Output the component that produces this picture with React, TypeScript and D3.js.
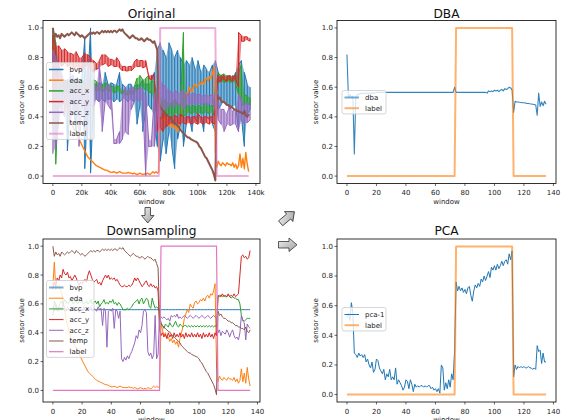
import React from "react";
import * as d3 from "d3";

const BLUE = "#1f77b4";
const ORANGE = "#ff7f0e";
const GREEN = "#2ca02c";
const RED = "#d62728";
const PURPLE = "#9467bd";
const BROWN = "#8c564b";
const PINK = "#e377c2";
const FONT = "DejaVu Sans, Liberation Sans, sans-serif";

// window index 0..135 for the downsampled / DBA / PCA series
const win = d3.range(136);
// original signal, bins of 2k samples (value in thousands)
const origBin = d3.range(0, 137, 2);

const xTickVals = [0, 20, 40, 60, 80, 100, 120, 140];
const origTickLabels = ["0", "20k", "40k", "60k", "80k", "100k", "120k", "140k"];
const yTickVals = [0, 0.2, 0.4, 0.6, 0.8, 1.0];

const label = [
  0, 0, 0, 0, 0, 0, 0, 0, 0, 0, 0, 0, 0, 0, 0, 0, 0, 0, 0, 0,
  0, 0, 0, 0, 0, 0, 0, 0, 0, 0, 0, 0, 0, 0, 0, 0, 0, 0, 0, 0,
  0, 0, 0, 0, 0, 0, 0, 0, 0, 0, 0, 0, 0, 0, 0, 0, 0, 0, 0, 0,
  0, 0, 0, 0, 0, 0, 0, 0, 0, 0, 0, 0, 0, 0, 1, 1, 1, 1, 1, 1,
  1, 1, 1, 1, 1, 1, 1, 1, 1, 1, 1, 1, 1, 1, 1, 1, 1, 1, 1, 1,
  1, 1, 1, 1, 1, 1, 1, 1, 1, 1, 1, 1, 1, 0, 0, 0, 0, 0, 0, 0,
  0, 0, 0, 0, 0, 0, 0, 0, 0, 0, 0, 0, 0, 0, 0, 0,
];

const dsBvp = [
  .56, .56, .56, .56, .56, .56, .56, .56, .56, .56, .56, .56, .56, .56, .56, .56, .56, .56, .56, .56,
  .56, .56, .56, .56, .56, .56, .56, .56, .56, .56, .56, .56, .56, .56, .56, .56, .56, .56, .56, .56,
  .56, .56, .56, .56, .56, .56, .56, .56, .56, .56, .56, .56, .56, .56, .56, .56, .56, .56, .56, .56,
  .56, .56, .56, .56, .56, .56, .56, .56, .56, .56, .56, .56, .56, .56, .56, .56, .56, .56, .56, .56,
  .56, .56, .56, .56, .56, .56, .56, .56, .56, .56, .56, .56, .56, .56, .56, .56, .56, .56, .56, .56,
  .56, .56, .56, .56, .56, .56, .56, .56, .56, .56, .56, .56, .56, .56, .56, .56, .56, .56, .56, .56,
  .56, .56, .56, .56, .56, .56, .56, .56, .56, .56, .56, .56, .56, .56, .56, .56,
];

const dsEda = [
  .72, .89, .70, .72, .73, .70, .68, .62, .56, .50,
  .45, .41, .38, .35, .33, .31, .30, .27, .25, .23,
  .21, .19, .17, .15, .13, .12, .11, .10, .09, .08,
  .07, .065, .06, .055, .05, .045, .04, .04, .035, .03,
  .025, .025, .03, .025, .02, .025, .03, .025, .02, .02,
  .02, .02, .025, .02, .02, .015, .02, .015, .01, .015,
  .02, .015, .01, .015, .01, .02, .015, .01, .02, .03,
  .02, .03, .02, .03, .46, .42, .38, .40, .36, .37,
  .34, .36, .33, .35, .32, .34, .30, .36, .40, .44,
  .50, .53, .56, .54, .60, .58, .57, .61, .62, .60,
  .61, .63, .62, .64, .62, .65, .66, .64, .67, .66,
  .69, .74, .17, .06, .10, .08, .07, .09, .08, .07,
  .09, .08, .08, .07, .09, .06, .08, .05, .07, .15,
  .06, .12, .05, .16, .08, .03,
];

const dsAccX = [
  .52, .62, .60, .55, .58, .60, .62, .60, .63, .62,
  .60, .61, .63, .62, .60, .61, .62, .60, .62, .61,
  .62, .60, .61, .62, .60, .61, .63, .60, .61, .62,
  .60, .62, .58, .60, .61, .63, .60, .61, .60, .62,
  .61, .63, .60, .61, .59, .61, .60, .58, .56, .56,
  .56, .57, .56, .57, .58, .60, .61, .62, .63, .60,
  .63, .64, .60, .62, .64, .63, .58, .57, .64, .60,
  .57, .58, .57, .55, .46, .45, .43, .46, .45, .44,
  .47, .45, .44, .46, .48, .45, .44, .46, .45, .44,
  .45, .45, .44, .45, .44, .45, .44, .45, .44, .45,
  .44, .45, .44, .45, .44, .45, .44, .45, .44, .45,
  .44, .45, .44, .66, .65, .66, .65, .66, .65, .65,
  .66, .65, .64, .65, .64, .64, .63, .63, .60, .52,
  .49, .48, .49, .50, .50, .50,
];

const dsAccY = [
  .70, .75, .72, .78, .76, .80, .78, .84, .81, .80,
  .82, .78, .79, .76, .78, .80, .78, .75, .73, .75,
  .74, .76, .77, .75, .80, .83, .80, .77, .75, .76,
  .77, .74, .75, .73, .76, .78, .80, .78, .80, .77,
  .78, .77, .78, .76, .77, .75, .73, .72, .72, .73,
  .72, .72, .73, .72, .73, .75, .78, .76, .78, .76,
  .74, .72, .73, .75, .76, .73, .72, .74, .72, .73,
  .71, .72, .69, .42, .38, .40, .37, .39, .36, .40,
  .37, .39, .36, .40, .37, .39, .37, .40, .37, .39,
  .36, .40, .37, .39, .37, .40, .37, .39, .37, .40,
  .37, .39, .36, .40, .37, .39, .37, .40, .37, .39,
  .36, .40, .38, .65, .66, .65, .67, .65, .66, .65,
  .67, .65, .66, .65, .67, .65, .66, .67, .80, .93,
  .94, .92, .93, .91, .92, .97,
];

const dsAccZ = [
  .58, .55, .60, .57, .55, .58, .56, .60, .57, .55,
  .58, .56, .55, .57, .58, .55, .57, .56, .54, .57,
  .55, .58, .56, .55, .57, .56, .58, .55, .57, .56,
  .55, .58, .56, .57, .45, .57, .55, .30, .55, .56,
  .55, .57, .43, .56, .55, .50, .55, .22, .20, .23,
  .21, .24, .22, .25, .27, .30, .33, .38, .36, .42,
  .40, .45, .55, .56, .54, .27, .24, .26, .22, .25,
  .52, .22, .25, .52, .51, .50, .51, .50, .49, .50,
  .48, .52, .51, .52, .51, .53, .50, .51, .50, .51,
  .52, .51, .50, .51, .52, .51, .50, .51, .52, .51,
  .50, .51, .52, .51, .50, .51, .52, .51, .50, .51,
  .52, .51, .50, .40, .42, .38, .41, .40, .39, .42,
  .40, .37, .40, .42, .38, .36, .37, .35, .40, .52,
  .48, .47, .35, .46, .44, .43,
];

const dsTemp = [
  1.0, .93, .96, .94, .95, .93, .96, .95, .94, .95,
  .96, .95, .96, .97, .96, .95, .97, .96, .95, .94,
  .95, .94, .93, .94, .95, .96, .97, .96, .97, .96,
  .97, .97, .96, .97, .98, .97, .98, .97, .98, .97,
  .98, .97, .98, .98, .97, .98, .99, .98, .99, .97,
  .96, .95, .94, .93, .94, .95, .94, .93, .93, .92,
  .92, .93, .92, .91, .92, .93, .92, .92, .91, .90,
  .91, .88, .85, .50, .47, .45, .44, .43, .42, .41,
  .405, .39, .38, .37, .36, .35, .34, .33, .31, .30,
  .29, .28, .27, .26, .26, .25, .245, .24, .235, .23,
  .22, .20, .19, .17, .15, .13, .12, .10, .08, .06,
  .04, .01, -.03, .55, .52, .53, .51, .50, .50, .49,
  .48, .48, .47, .47, .46, .45, .45, .44, .44, .43,
  .43, .42, .44, .41, .40, .42,
];

const dba = [
  .82, .53, .55, .53, .54, .15, .53, .55, .55, .56,
  .555, .56, .555, .56, .56, .56, .56, .56, .56, .56,
  .565, .565, .565, .565, .565, .565, .565, .565, .565, .565,
  .565, .565, .565, .565, .565, .565, .565, .565, .565, .565,
  .565, .565, .565, .565, .565, .565, .565, .565, .565, .565,
  .565, .565, .565, .565, .565, .565, .565, .565, .565, .565,
  .565, .565, .565, .565, .565, .565, .565, .565, .565, .565,
  .565, .565, .565, .60, .565, .565, .565, .565, .565, .565,
  .565, .565, .565, .565, .565, .565, .565, .565, .565, .565,
  .565, .565, .565, .565, .565, .56, .575, .57, .575, .57,
  .58, .575, .58, .57, .58, .585, .575, .59, .585, .59,
  .60, .595, .58, .43, .505, .50, .50, .498, .497, .495,
  .495, .493, .49, .49, .488, .487, .485, .483, .48, .41,
  .56, .47, .50, .475, .505, .485,
];

const pca = [
  .52, .55, .50, .62, .55, .28, .27, .25, .28, .26,
  .27, .25, .27, .22, .24, .20, .18, .22, .15, .17,
  .24, .23, .18, .16, .14, .17, .10, .14, .12, .17,
  .10, .12, .10, .18, .07, .10, .08, .06, .03, .05,
  .10, .09, .04, .10, .07, .02, .07, .05, .06, .05,
  .06, .06, .05, .06, .05, .06, .06, .04, .05, .03,
  .04, .02, .04, .01, .20, .18, .03, .08, .04, .10,
  .05, .14, .10, .30, .76, .70, .73, .70, .72, .69,
  .71, .68, .72, .73, .67, .63, .70, .74, .72, .75,
  .73, .78, .76, .80, .77, .80, .83, .79, .86, .84,
  .87, .84, .88, .85, .87, .90, .87, .90, .91, .88,
  .95, .91, .97, .12, .20, .17, .19, .18, .19, .18,
  .19, .18, .18, .19, .18, .18, .17, .18, .17, .33,
  .29, .30, .21, .28, .22, .22,
];

// original noisy signals: low / high of each 2k bin
const oBvpLo = [
  .30, .20, .45, .48, .50, .17, .48, .50, .30, .50, .52, .05, .50, .02, .50, .52, .50, .52, .50, .52,
  .52, .50, .52, .50, .52, .52, .50, .52, .50, .35, .48, .30, .45, .48, .45, .40, .20, .10, .25, .15,
  .30, .20, .05, .25, .35, .20, .35, .40, .30, .40, .35, .42, .30, .40, .38, .35, .30, .45, .48, .50,
  .48, .45, .47, .48, .30, .40, .20, .42, .45,
];
const oBvpHi = [
  .98, .90, .75, .65, .64, .65, .66, .68, .64, .65, .66, .93, .62, 1.0, .62, .62, .63, .62, .70, .62,
  .63, .62, .62, .70, .62, .60, .62, .62, .60, .62, .62, .65, .62, .62, .65, .70, .85, .90, .85, .80,
  .90, .85, .80, .85, .80, .75, .78, .75, .80, .72, .78, .70, .75, .72, .70, .75, .78, .70, .68, .65,
  .66, .68, .65, .70, .75, .78, .70, .62, .60,
];
const oAccXLo = [
  .50, .08, .55, .55, .56, .55, .58, .57, .58, .57, .58, .56, .58, .57, .56, .58, .58, .57, .58, .58,
  .57, .56, .57, .57, .55, .55, .55, .55, .56, .58, .60, .60, .58, .57, .56, .50, .40, .38, .40, .40,
  .42, .40, .42, .42, .40, .40, .42, .43, .42, .43, .42, .43, .42, .43, .42, .43, .40, .63, .64, .63,
  .64, .63, .64, .62, .55, .48, .48, .49, .48,
];
const oAccXHi = [
  1.0, .90, .65, .63, .64, .63, .64, .63, .66, .63, .64, .63, .64, .63, .65, .64, .63, .62, .63, .62,
  .61, .60, .61, .60, .58, .57, .58, .57, .60, .66, .68, .65, .66, .68, .65, .63, .58, .55, .50, .52,
  .48, .50, .52, .48, .50, .97, .48, .47, .48, .47, .48, .47, .48, .50, .47, .48, .60, .70, .68, .69,
  .68, .67, .68, .66, .70, .75, .55, .54, .53,
];
const oAccYLo = [
  .50, .60, .75, .74, .76, .74, .75, .72, .74, .72, .70, .74, .75, .72, .70, .72, .73, .75, .76, .74,
  .75, .74, .74, .73, .71, .71, .71, .71, .73, .74, .74, .73, .74, .66, .65, .65, .30, .33, .30, .33,
  .35, .36, .35, .36, .35, .36, .35, .36, .35, .36, .35, .36, .35, .36, .35, .36, .35, .64, .64, .65,
  .64, .65, .64, .65, .60, .91, .91, .92, .91,
];
const oAccYHi = [
  .95, .88, .88, .85, .86, .84, .83, .82, .84, .80, .80, .83, .82, .80, .78, .76, .78, .82, .82, .80,
  .79, .78, .80, .77, .74, .74, .74, .74, .77, .79, .78, .78, .78, .68, .68, .68, .50, .42, .45, .42,
  .40, .40, .41, .40, .42, .40, .40, .40, .40, .40, .42, .40, .40, .40, .40, .40, .50, .68, .67, .68,
  .67, .68, .67, .68, .97, .95, .94, .94, .93,
];
const oAccZLo = [
  .15, .20, .35, .45, .40, .50, .35, .45, .50, .20, .45, .50, .25, .50, .45, .52, .50, .30, .50, .48,
  .45, .22, .22, .22, .25, .30, .28, .45, .50, .52, .50, .52, .00, .20, .20, .20, .40, .40, .45, .45,
  .47, .48, .47, .48, .48, .45, .48, .48, .49, .48, .49, .48, .49, .48, .49, .48, .45, .38, .35, .30,
  .35, .34, .35, .35, .30, .38, .35, .36, .38,
];
const oAccZHi = [
  .85, .80, .75, .70, .65, .60, .70, .60, .62, .65, .60, .62, .75, .58, .62, .60, .75, .58, .60, .62,
  .60, .25, .25, .30, .55, .60, .58, .60, .60, .58, .60, .58, .55, .25, .24, .55, .60, .65, .62, .60,
  .58, .56, .58, .56, .57, .58, .55, .56, .55, .56, .55, .55, .54, .55, .54, .55, .55, .52, .45, .45,
  .42, .48, .44, .45, .55, .52, .48, .50, .48,
];

type Layer =
  | { kind: "line"; x: number[]; y: number[]; color: string; width: number; opacity?: number }
  | { kind: "band"; x: number[]; lo: number[]; hi: number[]; color: string; width: number };
type Box = { x: number; y: number; w: number; h: number };
type LegendItem = { name: string; color: string; width: number; opacity?: number };

function Panel(props: {
  id: string;
  box: Box;
  xDomain: [number, number];
  yDomain: [number, number];
  xLabels: string[];
  title: string;
  titleY: number;
  layers: Layer[];
  legend: LegendItem[];
  legendAt: { x: number; y: number; w: number };
}) {
  const { id, box, xDomain, yDomain, xLabels, title, titleY, layers, legend, legendAt } = props;
  const x = d3.scaleLinear().domain(xDomain).range([box.x, box.x + box.w]);
  const y = d3.scaleLinear().domain(yDomain).range([box.y + box.h, box.y]);
  const line = d3
    .line<[number, number]>()
    .x((d) => x(d[0]))
    .y((d) => y(d[1]));
  const area = d3
    .area<[number, number, number]>()
    .x((d) => x(d[0]))
    .y0((d) => y(d[1]))
    .y1((d) => y(d[2]));

  const paths = layers.map((l, i) => {
    if (l.kind === "line") {
      const pts = l.x.map((v, j) => [v, l.y[j]] as [number, number]);
      return (
        <path
          key={i}
          d={line(pts) || ""}
          fill="none"
          stroke={l.color}
          strokeWidth={l.width}
          strokeOpacity={l.opacity ?? 1}
          strokeLinejoin="round"
        />
      );
    }
    // noisy original signal: light envelope plus a zigzag through the bin extremes
    const zig: [number, number][] = [];
    l.x.forEach((v, j) => {
      zig.push([v, j % 2 ? l.hi[j] : l.lo[j]]);
      zig.push([v, j % 2 ? l.lo[j] : l.hi[j]]);
    });
    const env = l.x.map((v, j) => [v, l.lo[j], l.hi[j]] as [number, number, number]);
    return (
      <g key={i}>
        <path d={area(env) || ""} fill={l.color} fillOpacity={0.55} />
        <path d={line(zig) || ""} fill="none" stroke={l.color} strokeWidth={l.width} />
      </g>
    );
  });

  const rowH = 10.7;
  const legH = legend.length * rowH + 2;
  const cx = box.x + box.w / 2;
  const cy = box.y + box.h / 2;

  return (
    <g fontFamily={FONT}>
      <defs>
        <clipPath id={id}>
          <rect x={box.x} y={box.y} width={box.w} height={box.h} />
        </clipPath>
      </defs>
      <g clipPath={`url(#${id})`}>{paths}</g>
      <rect x={box.x} y={box.y} width={box.w} height={box.h} fill="none" stroke="#000" strokeWidth={0.8} />
      {yTickVals.map((t) => (
        <g key={"y" + t}>
          <line x1={box.x - 2.5} x2={box.x} y1={y(t)} y2={y(t)} stroke="#000" strokeWidth={0.6} />
          <text x={box.x - 4} y={y(t)} dy="0.35em" textAnchor="end" fontSize={7} fill="#222">
            {t.toFixed(1)}
          </text>
        </g>
      ))}
      {xTickVals.map((t, i) => (
        <g key={"x" + t}>
          <line x1={x(t)} x2={x(t)} y1={box.y + box.h} y2={box.y + box.h + 2.5} stroke="#000" strokeWidth={0.6} />
          <text x={x(t)} y={box.y + box.h + 11.5} textAnchor="middle" fontSize={7} fill="#222">
            {xLabels[i]}
          </text>
        </g>
      ))}
      <text x={cx} y={box.y + box.h + 20} textAnchor="middle" fontSize={7} fill="#222">
        window
      </text>
      <text
        transform={`translate(${box.x - 19.5},${cy}) rotate(-90)`}
        textAnchor="middle"
        fontSize={7}
        fill="#222"
      >
        sensor value
      </text>
      <text x={cx} y={titleY} textAnchor="middle" fontSize={12.2} fill="#111">
        {title}
      </text>
      <g>
        <rect
          x={legendAt.x}
          y={legendAt.y}
          width={legendAt.w}
          height={legH}
          rx={2}
          fill="#fff"
          fillOpacity={0.8}
          stroke="#ccc"
          strokeWidth={0.8}
        />
        {legend.map((it, i) => {
          const ly = legendAt.y + 7 + i * rowH;
          return (
            <g key={it.name}>
              <line
                x1={legendAt.x + 2.5}
                x2={legendAt.x + 17}
                y1={ly}
                y2={ly}
                stroke={it.color}
                strokeWidth={it.width}
                strokeOpacity={it.opacity ?? 1}
              />
              <text x={legendAt.x + 23} y={ly} dy="0.35em" fontSize={7} fill="#222">
                {it.name}
              </text>
            </g>
          );
        })}
      </g>
    </g>
  );
}

function Arrows() {
  return (
    <g stroke="#333" strokeWidth={0.8} fill="url(#arrowFill)">
      <defs>
        <linearGradient id="arrowFill" x1="0" y1="0" x2="1" y2="1">
          <stop offset="0%" stopColor="#f2f2f2" />
          <stop offset="100%" stopColor="#9c9c9c" />
        </linearGradient>
      </defs>
      <path d="M145,207.5 H150.5 V215.5 H154 L147.75,223 L141.5,215.5 H145 Z" />
      <path d="M278.5,241.5 H289 V238 L297,244.8 L289,251.5 V248 H278.5 Z" />
      <path
        d="M-9,-3.2 H1.5 V-6.5 L9,0 L1.5,6.5 V3.2 H-9 Z"
        transform="translate(287.5,217.5) rotate(-40)"
      />
    </g>
  );
}

export default function App() {
  const dom: [number, number] = [-6.75, 141.75];
  const nums = xTickVals.map((t) => String(t));
  const L = (x: number[], y: number[], color: string, width: number, opacity?: number): Layer => ({
    kind: "line",
    x,
    y,
    color,
    width,
    opacity,
  });
  const B = (lo: number[], hi: number[], color: string): Layer => ({
    kind: "band",
    x: origBin,
    lo,
    hi,
    color,
    width: 1,
  });
  const sensorLegend: LegendItem[] = [
    { name: "bvp", color: BLUE, width: 1.5 },
    { name: "eda", color: ORANGE, width: 1.5 },
    { name: "acc_x", color: GREEN, width: 1.5 },
    { name: "acc_y", color: RED, width: 1.5 },
    { name: "acc_z", color: PURPLE, width: 1.5 },
    { name: "temp", color: BROWN, width: 1.5 },
    { name: "label", color: PINK, width: 2, opacity: 0.6 },
  ];
  return (
    <svg
      width={563}
      height={420}
      style={{ position: "absolute", left: 0, top: 0, background: "#fff" }}
    >
      <Panel
        id="c1"
        box={{ x: 43, y: 20.5, w: 217, h: 163 }}
        xDomain={[-6.8, 142.8]}
        yDomain={[-0.05, 1.05]}
        xLabels={origTickLabels}
        title="Original"
        titleY={18}
        layers={[
          B(oBvpLo, oBvpHi, BLUE),
          L(win, dsEda, ORANGE, 1.4),
          B(oAccXLo, oAccXHi, GREEN),
          B(oAccYLo, oAccYHi, RED),
          B(oAccZLo, oAccZHi, PURPLE),
          L(win, dsTemp, BROWN, 2),
          L(win, label, PINK, 2, 0.6),
        ]}
        legend={sensorLegend}
        legendAt={{ x: 46.5, y: 62.5, w: 47.5 }}
      />
      <Panel
        id="c2"
        box={{ x: 337, y: 20.5, w: 219, h: 163 }}
        xDomain={dom}
        yDomain={[-0.05, 1.05]}
        xLabels={nums}
        title="DBA"
        titleY={18}
        layers={[L(win, dba, BLUE, 1.1, 0.9), L(win, label, ORANGE, 2, 0.6)]}
        legend={[
          { name: "dba", color: BLUE, width: 2, opacity: 0.6 },
          { name: "label", color: ORANGE, width: 2, opacity: 0.6 },
        ]}
        legendAt={{ x: 342, y: 90.5, w: 44 }}
      />
      <Panel
        id="c3"
        box={{ x: 43, y: 239, w: 217, h: 163 }}
        xDomain={dom}
        yDomain={[-0.08, 1.05]}
        xLabels={nums}
        title="Downsampling"
        titleY={235}
        layers={[
          L(win, dsBvp, BLUE, 1),
          L(win, dsEda, ORANGE, 1),
          L(win, dsAccX, GREEN, 1),
          L(win, dsAccY, RED, 1),
          L(win, dsAccZ, PURPLE, 1),
          L(win, dsTemp, BROWN, 1),
          L(win, label, PINK, 1.2),
        ]}
        legend={[
          { name: "bvp", color: BLUE, width: 2, opacity: 0.6 },
          ...sensorLegend.slice(1, 6).map((d) => ({ ...d, width: 1 })),
          { name: "label", color: PINK, width: 1.2 },
        ]}
        legendAt={{ x: 46.5, y: 280.5, w: 47.5 }}
      />
      <Panel
        id="c4"
        box={{ x: 337, y: 239, w: 219, h: 163 }}
        xDomain={dom}
        yDomain={[-0.05, 1.05]}
        xLabels={nums}
        title="PCA"
        titleY={235}
        layers={[L(win, pca, BLUE, 1), L(win, label, ORANGE, 2, 0.6)]}
        legend={[
          { name: "pca-1", color: BLUE, width: 1 },
          { name: "label", color: ORANGE, width: 2, opacity: 0.6 },
        ]}
        legendAt={{ x: 342, y: 307.5, w: 44 }}
      />
      <Arrows />
    </svg>
  );
}
